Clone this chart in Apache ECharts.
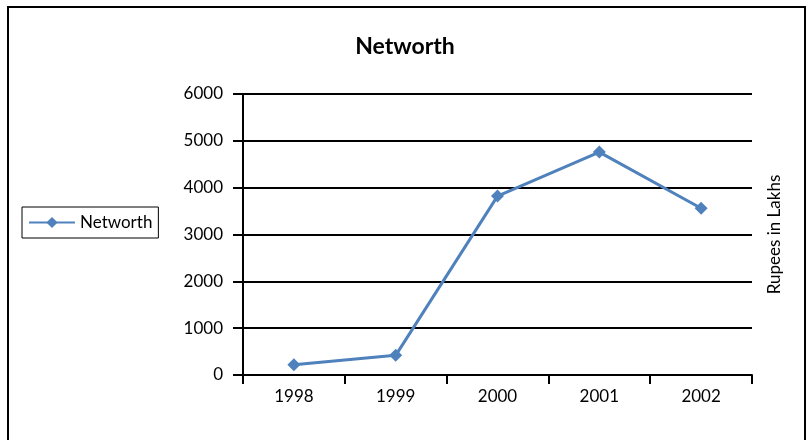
<!DOCTYPE html>
<html><head><meta charset="utf-8">
<script src="https://cdn.jsdelivr.net/npm/echarts@6/dist/echarts.min.js"></script>
<style>html,body{margin:0;padding:0;background:#fff}#c{width:810px;height:440px}</style>
</head><body><div id="c"></div>
<script>
const years = ['1998','1999','2000','2001','2002'];
const networth = [220, 420, 3820, 4760, 3560];
const yTicks = [0, 1000, 2000, 3000, 4000, 5000, 6000];
const seriesName = 'Networth';
const titleText = 'Networth';
const yName = 'Rupees in Lakhs';

const font = 'Lato';
const chart = echarts.init(document.getElementById('c'));
chart.setOption({
  animation: false,
  title: { text: titleText, left: 'center', top: 30, textStyle: { fontFamily: font, fontSize: 23, fontWeight: 'bold', color: '#000' } },
  legend: {
    data: [seriesName], left: 22, top: 207, orient: 'vertical',
    borderColor: '#000', borderWidth: 1, padding: [7, 6, 7, 6],
    itemWidth: 46, itemHeight: 14, itemGap: 4,
    textStyle: { fontFamily: font, fontSize: 17, color: '#000' }
  },
  graphic: [{ type: 'rect', shape: { x: 8, y: 7, width: 797, height: 450 }, style: { fill: 'none', stroke: '#000', lineWidth: 2 }, silent: true }],
  grid: { left: 243, right: 58, top: 94, bottom: 65 },
  xAxis: {
    type: 'category', data: years, boundaryGap: true,
    axisLine: { lineStyle: { color: '#000', width: 2 } },
    axisTick: { show: true, length: 9, lineStyle: { color: '#000', width: 2 } },
    axisLabel: { fontFamily: font, fontSize: 17, color: '#000', margin: 13 }
  },
  yAxis: [{
    type: 'value', min: yTicks[0], max: yTicks[yTicks.length - 1], interval: 1000,
    axisLine: { show: true, lineStyle: { color: '#000', width: 2 } },
    axisTick: { show: true, length: 10, lineStyle: { color: '#000', width: 2 } },
    axisLabel: { fontFamily: font, fontSize: 17, color: '#000', margin: 20, formatter: v => String(v) },
    splitLine: { show: true, lineStyle: { color: '#000', width: 2 } }
  }, {
    type: 'value', position: 'right', min: yTicks[0], max: yTicks[yTicks.length - 1], interval: 1000,
    name: yName, nameLocation: 'middle', nameGap: 14, nameRotate: 90,
    nameTextStyle: { fontFamily: font, fontSize: 17, color: '#000' },
    axisLine: { show: false }, axisTick: { show: false }, axisLabel: { show: false }, splitLine: { show: false }
  }],
  series: [{
    name: seriesName, type: 'line', data: networth,
    symbol: 'diamond', symbolSize: 13,
    lineStyle: { color: '#4F81BD', width: 3 },
    itemStyle: { color: '#4F81BD' }
  }]
});
</script></body></html>
